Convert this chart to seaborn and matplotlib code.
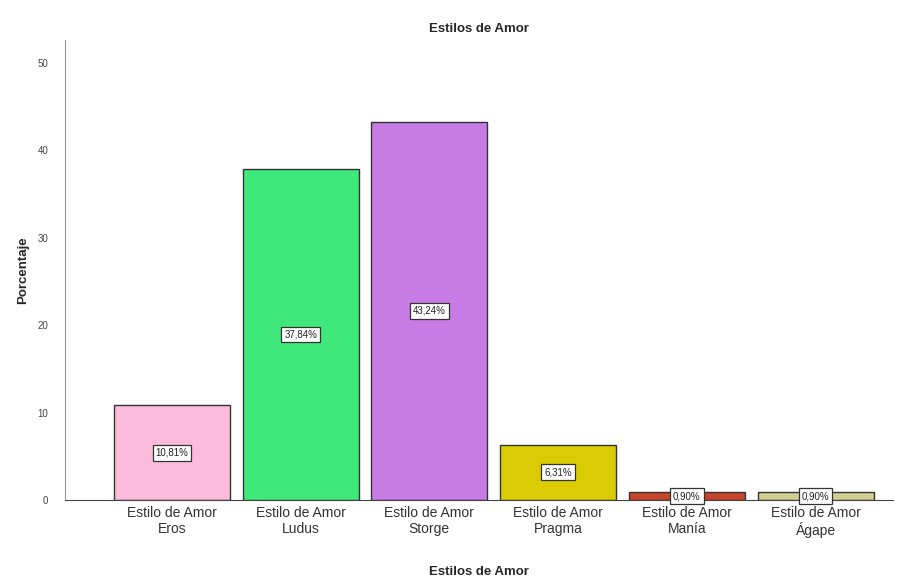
import pandas as pd
import matplotlib
matplotlib.use('Agg')
import matplotlib.pyplot as plt
import seaborn as sns

# Datos
categorias = ['Estilo de Amor\nEros', 'Estilo de Amor\nLudus', 'Estilo de Amor\nStorge',
              'Estilo de Amor\nPragma', 'Estilo de Amor\nManía', 'Estilo de Amor\nÁgape']
porcentajes = [10.81, 37.84, 43.24, 6.31, 0.90, 0.90]
etiquetas = ['10,81%', '37,84%', '43,24%', '6,31%', '0,90%', '0,90%']
colores = ['#FDBBDB', '#3EE87A', '#C87BE4', '#DACB05', '#C8452C', '#D3CF90']

df = pd.DataFrame({'categoria': categorias, 'porcentaje': porcentajes})

sns.set_style('white')
plt.rcParams['font.family'] = ['Liberation Sans', 'DejaVu Sans']

fig = plt.figure(figsize=(9.12, 5.86), dpi=100)
ax = fig.add_axes([0.0713, 0.1468, 0.9077, 0.785])

sns.barplot(data=df, x='categoria', y='porcentaje', hue='categoria',
            palette=colores, saturation=1, width=0.9, edgecolor='#333333', linewidth=1.0,
            legend=False, ax=ax)

# Etiquetas de porcentaje en el centro de cada barra
for i, (v, t) in enumerate(zip(porcentajes, etiquetas)):
    ax.text(i, v / 2, t, ha='center', va='center', fontsize=7, color='#222222',
            bbox=dict(boxstyle='square,pad=0.3', facecolor='white', edgecolor='#333333', linewidth=0.9))

ax.set_xlim(-0.83, 5.6)
ax.set_ylim(0, 52.6)
ax.set_yticks([0, 10, 20, 30, 40, 50])
ax.tick_params(axis='y', labelsize=7, colors='#444444', length=0, pad=12)
ax.tick_params(axis='x', labelsize=10, colors='#333333', length=0, pad=4)

for s in ['top', 'right']:
    ax.spines[s].set_visible(False)
ax.spines['left'].set_color('#999999')
ax.spines['bottom'].set_color('#444444')

ax.set_title('Estilos de Amor', fontsize=9.5, fontweight='bold', pad=6)
ax.set_ylabel('Porcentaje', fontsize=9.5, fontweight='bold', labelpad=6)
ax.set_xlabel('Estilos de Amor', fontsize=9.5, fontweight='bold', labelpad=20)

plt.savefig('out.png', dpi=100)
